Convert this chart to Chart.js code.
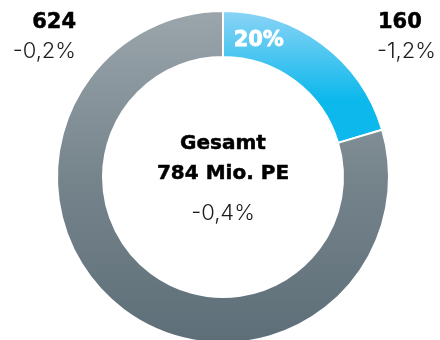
<!DOCTYPE html>
<html lang="de">
<head>
<meta charset="utf-8">
<script src="https://cdn.jsdelivr.net/npm/chart.js@4/dist/chart.umd.min.js"></script>
<style>
    html, body { margin: 0; padding: 0; background: #fff; overflow: hidden; }
    #wrap { position: relative; width: 440px; height: 340px; overflow: hidden; color: #000; }
    #wrap canvas { position: absolute; left: 0; top: 0; }
    .lbl { position: absolute; white-space: nowrap; line-height: 1; }
    .bold { font-family: "DejaVu Sans", Inter, sans-serif; font-weight: 700; font-size: 20px; -webkit-text-stroke: 0.5px #000; }
    .big { font-size: 21px; }
    .light { font-family: Inter, "Noto Sans", sans-serif; font-weight: 300; font-size: 22px; color: #1c1c1c; }
</style>
</head>
<body>
<div id="wrap">
    <canvas id="chart" width="440" height="360"></canvas>
    <div class="lbl bold big" id="v0" style="left:378px; top:11px;"></div>
    <div class="lbl light" id="c0" style="left:377px; top:39px;"></div>
    <div class="lbl bold big" id="v1" style="right:364px; top:11px; text-align:right;"></div>
    <div class="lbl light" id="c1" style="right:364px; top:39px; text-align:right;"></div>
    <div class="lbl bold" id="title" style="left:0; width:446px; top:132px; text-align:center;">Gesamt</div>
    <div class="lbl bold" id="total" style="left:0; width:446px; top:162px; text-align:center;"></div>
    <div class="lbl light" id="totalChange" style="left:0; width:446px; top:201px; text-align:center;"></div>
</div>
<script>
// Mio. PE per segment, clockwise from the top
const segments = ["Blau", "Grau"];
const values = [160, 624];
const changes = ["-1,2%", "-0,2%"];
const totalChangeText = "-0,4%";

const total = values.reduce((a, b) => a + b, 0);

function fmt(n) {
    return n.toLocaleString("de-DE");
}

document.getElementById("v0").textContent = fmt(values[0]);
document.getElementById("c0").textContent = changes[0];
document.getElementById("v1").textContent = fmt(values[1]);
document.getElementById("c1").textContent = changes[1];
document.getElementById("total").textContent = fmt(total) + " Mio. PE";
document.getElementById("totalChange").textContent = totalChangeText;

function segmentFill(context) {
    const { ctx, chartArea } = context.chart;
    if (!chartArea) return "#7a8890";
    const g = ctx.createLinearGradient(0, chartArea.top, 0, chartArea.bottom);
    if (context.dataIndex === 0) {
        g.addColorStop(0, "#8cd4f6");
        g.addColorStop(0.27, "#0cb8ec");
        g.addColorStop(1, "#0cb8ec");
    } else {
        g.addColorStop(0, "#9ba6ac");
        g.addColorStop(0.5, "#76848c");
        g.addColorStop(1, "#5d6e78");
    }
    return g;
};

// share of the first segment written inside its arc
const shareLabel = {
    id: "shareLabel",
    afterDatasetsDraw(chart) {
        const arc = chart.getDatasetMeta(0).data[0];
        if (!arc) return;
        const { x, y, startAngle, endAngle, innerRadius, outerRadius } = arc.getProps(
            ["x", "y", "startAngle", "endAngle", "innerRadius", "outerRadius"], true);
        const a = startAngle + (endAngle - startAngle) * 0.2;
        const r = (innerRadius + outerRadius) / 2 - 2;
        const px = x + r * Math.cos(a);
        const py = y + r * Math.sin(a);
        const text = Math.round(values[0] / total * 100) + "%";
        const ctx = chart.ctx;
        ctx.save();
        ctx.fillStyle = "#fff";
        ctx.strokeStyle = "#fff";
        ctx.lineWidth = 0.8;
        ctx.font = "bold 21px 'DejaVu Sans', Inter, sans-serif";
        ctx.textAlign = "center";
        ctx.textBaseline = "middle";
        ctx.fillText(text, px, py);
        ctx.strokeText(text, px, py);
        ctx.restore();
    },
};

new Chart(document.getElementById("chart"), {
    type: "doughnut",
    data: {
        labels: segments,
        datasets: [{
            data: values,
            backgroundColor: segmentFill,
            borderColor: "#fff",
            borderWidth: 2,
            hoverOffset: 0,
        }],
    },
    options: {
        responsive: false,
        animation: false,
        cutout: 120,
        layout: { padding: { left: 56, right: 50, top: 10, bottom: 16 } },
        plugins: {
            legend: { display: false },
            tooltip: { enabled: false },
        },
    },
    plugins: [shareLabel],
});
</script>
</body>
</html>
